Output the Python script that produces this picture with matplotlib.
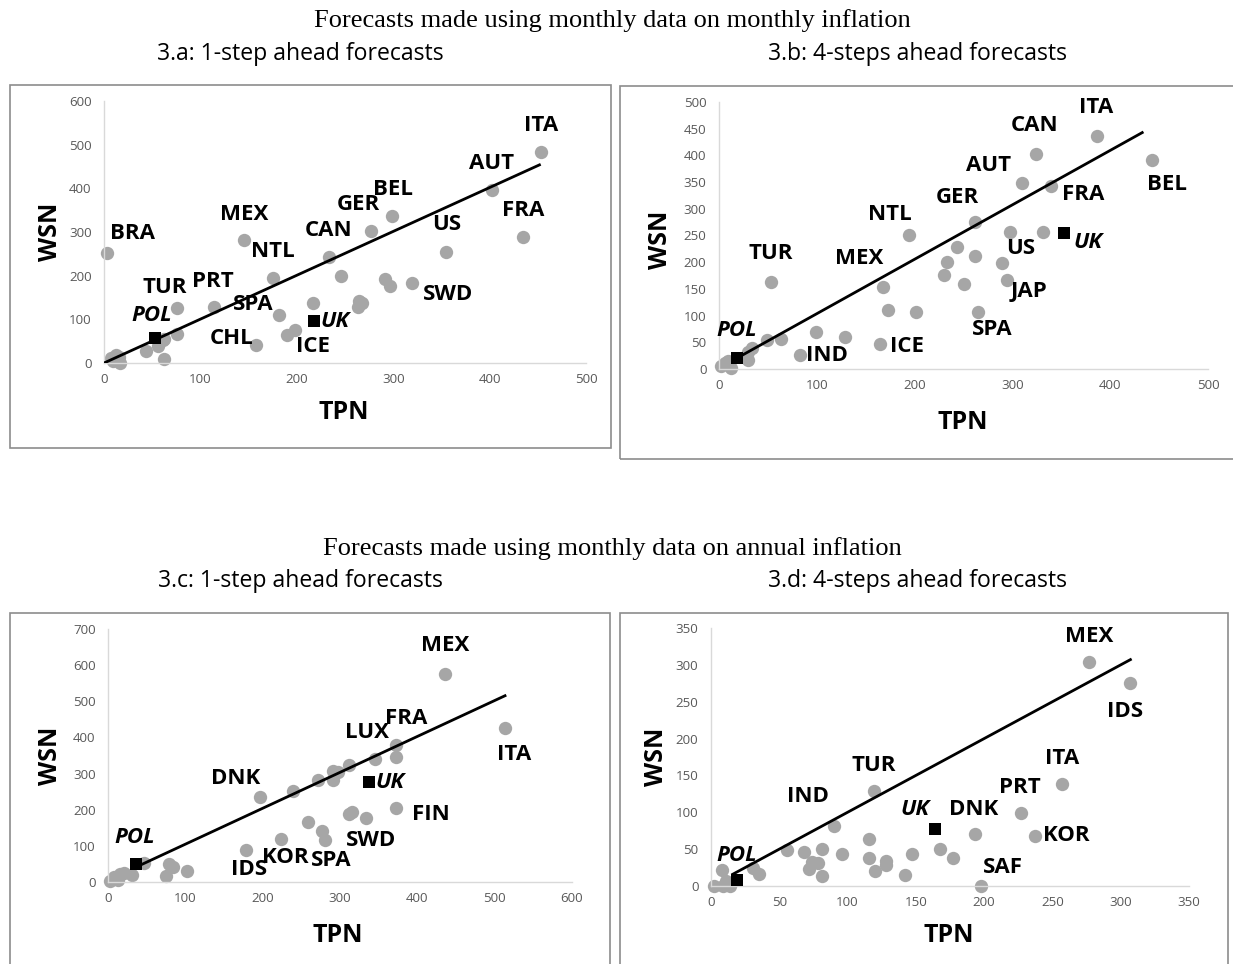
import matplotlib
matplotlib.use("Agg")
import matplotlib.pyplot as plt
from matplotlib.patches import Rectangle

W, H = 1233, 964
SANS = ["Open Sans", "DejaVu Sans"]
SERIF = ["Liberation Serif", "DejaVu Serif"]

# ---------------- data ----------------
# Panel 3.a
a_x = [3, 145, 76, 114, 76, 175, 182, 158, 190, 198, 217, 233, 246, 277, 299, 265, 268, 264,
       292, 297, 319, 355, 402, 435, 453, 7, 12, 16, 17, 9, 44, 56, 62, 62, 61]
a_y = [251, 281, 126, 128, 67, 195, 109, 41, 65, 75, 138, 243, 200, 302, 336, 143, 138, 128,
       193, 177, 183, 254, 396, 289, 484, 11, 18, 13, 0, 4, 28, 38, 56, 10, 53]
a_pol = (53, 57)
a_uk = (218, 96)
a_trend_x = [0, 453]
a_trend_y = [0, 455]
a_labels = ["BRA", "MEX", "NTL", "TUR", "PRT", "SPA", "CHL", "ICE", "CAN", "GER", "BEL",
            "US", "SWD", "AUT", "FRA", "ITA"]
a_lab_x = [30, 145, 175, 63, 113, 155, 132, 217, 233, 264, 300, 355, 357, 402, 435, 453]
a_lab_y = [296, 340, 256, 174, 187, 135, 55, 38, 304, 362, 397, 317, 158, 457, 349, 544]
a_pol_lab = (49, 109)
a_uk_lab = (225, 94)

# Panel 3.b
b_x = [53, 194, 168, 173, 201, 165, 129, 99, 83, 63, 49, 34, 30, 30, 2, 6, 12, 9, 262, 243,
       233, 230, 262, 251, 265, 289, 294, 298, 331, 310, 339, 324, 386, 443]
b_y = [163, 251, 154, 110, 107, 46, 59, 69, 27, 57, 54, 39, 32, 17, 6, 11, 2, 15, 276, 228,
       201, 176, 212, 159, 107, 199, 166, 256, 256, 348, 343, 403, 437, 392]
b_pol = (18, 20)
b_uk = (353, 254)
b_trend_x = [18, 434]
b_trend_y = [20, 444]
b_labels = ["ITA", "CAN", "AUT", "BEL", "FRA", "GER", "NTL", "TUR", "MEX", "US", "JAP",
            "SPA", "ICE", "IND"]
b_lab_x = [386, 323, 276, 458, 372, 244, 175, 53, 143, 308, 317, 279, 192, 110]
b_lab_y = [490, 456, 381, 346, 327, 321, 290, 216, 206, 225, 145, 74, 42, 25]
b_pol_lab = (18, 72)
b_uk_lab = (362, 237)

# Panel 3.c
c_x = [436, 513, 373, 372, 345, 311, 298, 291, 291, 272, 239, 196, 373, 311, 316, 334, 259,
       277, 281, 224, 178, 102, 84, 79, 75, 46, 2, 8, 16, 13, 31, 21]
c_y = [575, 425, 380, 346, 340, 323, 305, 307, 282, 281, 251, 235, 205, 189, 194, 177, 166,
       141, 115, 118, 88, 30, 42, 49, 16, 53, 3, 14, 23, 6, 20, 25]
c_pol = (36, 51)
c_uk = (338, 277)
c_trend_x = [36, 515]
c_trend_y = [41, 517]
c_labels = ["MEX", "FRA", "LUX", "ITA", "DNK", "FIN", "SWD", "IDS", "KOR", "SPA"]
c_lab_x = [436, 385, 335, 525, 165, 418, 340, 182, 229, 289]
c_lab_y = [653, 452, 415, 354, 286, 187, 114, 35, 69, 60]
c_pol_lab = (35, 122)
c_uk_lab = (346, 274)

# Panel 3.d
d_x = [277, 307, 257, 227, 237, 193, 198, 168, 177, 147, 142, 119, 116, 116, 128, 128, 120,
       96, 90, 81, 81, 68, 74, 78, 72, 56, 31, 35, 8, 2, 9, 14, 11]
d_y = [304, 276, 139, 99, 68, 70, 0, 50, 38, 43, 15, 129, 64, 38, 34, 29, 21, 44, 81, 50,
       14, 46, 32, 31, 23, 49, 25, 16, 22, 0, 0, 0, 7]
d_pol = (19, 8)
d_uk = (164, 78)
d_trend_x = [15, 308]
d_trend_y = [15, 308]
d_labels = ["MEX", "IDS", "ITA", "PRT", "TUR", "IND", "DNK", "KOR", "SAF"]
d_lab_x = [277, 303, 257, 226, 119, 71, 192, 260, 214]
d_lab_y = [338, 237, 173, 133, 163, 121, 104, 69, 25]
d_pol_lab = (19, 41)
d_uk_lab = (139, 104)

titles = ["Forecasts made using monthly data on monthly inflation",
          "Forecasts made using monthly data on annual inflation"]
subtitles = ["3.a: 1-step ahead forecasts", "3.b: 4-steps ahead forecasts",
             "3.c: 1-step ahead forecasts", "3.d: 4-steps ahead forecasts"]

# ---------------- figure ----------------
fig = plt.figure(figsize=(W / 100, H / 100), dpi=100)
fig.patch.set_facecolor("white")

def px_rect(x0, x1, y_bot, y_top):
    return [x0 / W, 1 - y_bot / H, (x1 - x0) / W, (y_bot - y_top) / H]

# frames (figure decoration)
for (l, t, r, b) in [(10, 85, 611, 448), (620, 86, 1240, 459),
                     (10, 613, 610, 990), (620, 613, 1228, 990)]:
    fig.patches.append(Rectangle((l / W, 1 - b / H), (r - l) / W, (b - t) / H,
                                 transform=fig.transFigure, fill=False,
                                 edgecolor="#8c8c8c", linewidth=1.2))

fig.text(612 / W, 1 - 21 / H, titles[0], ha="center", va="center",
         family=SERIF, fontsize=19)
fig.text(612 / W, 1 - 549 / H, titles[1], ha="center", va="center",
         family=SERIF, fontsize=19)
for (txt, cx, cy) in [(subtitles[0], 300, 54), (subtitles[1], 917, 54),
                      (subtitles[2], 300, 581), (subtitles[3], 917, 581)]:
    fig.text(cx / W, 1 - cy / H, txt, ha="center", va="center",
             family=SANS, fontsize=16.6)

panels = [
    dict(rect=px_rect(104, 586, 363, 101), xlim=500, ylim=600, xt=100, yt=100,
         x=a_x, y=a_y, pol=a_pol, uk=a_uk, tx=a_trend_x, ty=a_trend_y,
         labs=a_labels, lx=a_lab_x, ly=a_lab_y, pl=a_pol_lab, ul=a_uk_lab,
         wsn=(-0.11, 0.5), tpn=(0.498, -0.19)),
    dict(rect=px_rect(719, 1208, 369, 102), xlim=500, ylim=500, xt=100, yt=50,
         x=b_x, y=b_y, pol=b_pol, uk=b_uk, tx=b_trend_x, ty=b_trend_y,
         labs=b_labels, lx=b_lab_x, ly=b_lab_y, pl=b_pol_lab, ul=b_uk_lab,
         wsn=(-0.119, 0.483), tpn=(0.499, -0.199)),
    dict(rect=px_rect(108, 572, 882, 629), xlim=600, ylim=700, xt=100, yt=100,
         x=c_x, y=c_y, pol=c_pol, uk=c_uk, tx=c_trend_x, ty=c_trend_y,
         labs=c_labels, lx=c_lab_x, ly=c_lab_y, pl=c_pol_lab, ul=c_uk_lab,
         wsn=(-0.123, 0.5), tpn=(0.496, -0.21)),
    dict(rect=px_rect(711, 1189, 886, 628), xlim=350, ylim=350, xt=50, yt=50,
         x=d_x, y=d_y, pol=d_pol, uk=d_uk, tx=d_trend_x, ty=d_trend_y,
         labs=d_labels, lx=d_lab_x, ly=d_lab_y, pl=d_pol_lab, ul=d_uk_lab,
         wsn=(-0.113, 0.5), tpn=(0.498, -0.19)),
]

for p in panels:
    ax = fig.add_axes(p["rect"])
    ax.set_xlim(0, p["xlim"])
    ax.set_ylim(0, p["ylim"])
    ax.patch.set_alpha(0)
    for s in ("top", "right"):
        ax.spines[s].set_visible(False)
    for s in ("left", "bottom"):
        ax.spines[s].set_color("#d9d9d9")
        ax.spines[s].set_linewidth(1.0)
    ax.set_xticks(range(0, p["xlim"] + 1, p["xt"]))
    ax.set_yticks(range(0, p["ylim"] + 1, p["yt"]))
    ax.tick_params(length=0, labelsize=9.6, labelcolor="#595959")
    ax.tick_params(axis="y", pad=9)
    ax.tick_params(axis="x", pad=7)
    for lab in ax.get_xticklabels() + ax.get_yticklabels():
        lab.set_family(SANS)

    ax.plot(p["x"], p["y"], "o", color="#a6a6a6", markersize=9.6,
            markeredgewidth=0, zorder=2, clip_on=False)
    ax.plot(p["tx"], p["ty"], "-", color="black", linewidth=2.0, zorder=3,
            solid_capstyle="butt")
    ax.plot([p["pol"][0], p["uk"][0]], [p["pol"][1], p["uk"][1]], "s", color="black",
            markersize=8.2, markeredgewidth=0, zorder=4, linestyle="none")

    for t, lx, ly in zip(p["labs"], p["lx"], p["ly"]):
        ax.text(lx, ly, t, ha="center", va="center", family=SANS,
                fontweight="bold", fontsize=16, zorder=5)
    ax.text(p["pl"][0], p["pl"][1], "POL", ha="center", va="center", family=SANS,
            fontweight="bold", fontstyle="italic", fontsize=16, zorder=5)
    ax.text(p["ul"][0], p["ul"][1], "UK", ha="left", va="center", family=SANS,
            fontweight="bold", fontstyle="italic", fontsize=16, zorder=5)

    ax.text(p["wsn"][0], p["wsn"][1], "WSN", transform=ax.transAxes, rotation=90,
            ha="center", va="center", family=SANS, fontweight="bold", fontsize=18)
    ax.text(p["tpn"][0], p["tpn"][1], "TPN", transform=ax.transAxes,
            ha="center", va="center", family=SANS, fontweight="bold", fontsize=18)

fig.savefig("out.png", dpi=100, facecolor="white")
